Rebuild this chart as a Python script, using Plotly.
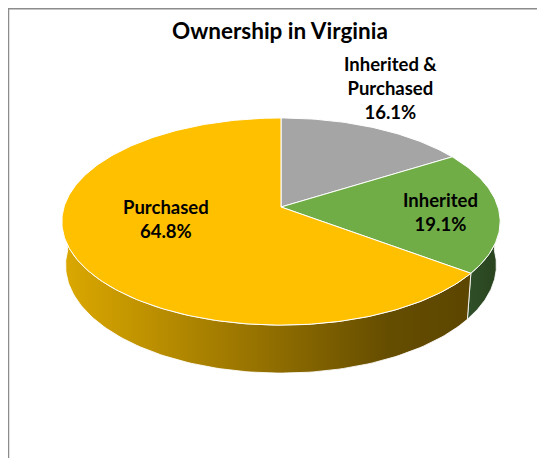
import numpy as np
import plotly.graph_objects as go

# ---- data ----
categories = ["Inherited &<br>Purchased", "Inherited", "Purchased"]
values = [16.1, 19.1, 64.8]
top_colors = ["#A5A5A5", "#70AD47", "#FFC000"]
side_scales = [
    [[0, "#6E6E6E"], [1, "#4A4A4A"]],
    [[0, "#30502A"], [1, "#28421C"]],
    [[0, "#DCA900"], [0.45, "#9A7500"], [0.8, "#654D00"], [1, "#5C4600"]],
]
label_pos = [(390, 88), (440, 212), (166, 219)]
title_text = "Ownership in Virginia"

# ---- layout / projection constants ----
W, H = 545, 458
OFF = 8  # browser body margin
CX, CY = 281, 207
F = 1367.0
D = 6.30
PHI = np.radians(27.9)
THICK = 0.23
FONT = "Lato"


def proj(X, Y, z):
    depth = D + Y * np.cos(PHI) - z * np.sin(PHI)
    sx = CX + F * X / depth
    sy = CY - F * (Y * np.sin(PHI) + z * np.cos(PHI)) / depth
    return sx, sy


def arc(t, z):
    return proj(np.sin(t), np.cos(t), z)


total = float(sum(values))
fr = np.array(values) / total
edges = np.concatenate([[0], np.cumsum(fr)]) * 2 * np.pi

fig = go.Figure()

# side walls (front half only)
for i in range(len(values)):
    a, b = edges[i], edges[i + 1]
    lo, hi = max(a, np.pi / 2), min(b, 3 * np.pi / 2)
    if lo >= hi:
        continue
    t = np.linspace(lo, hi, 120)
    tx, ty = arc(t, 0.0)
    bx, by = arc(t[::-1], -THICK)
    xs = np.concatenate([tx, bx, tx[:1]])
    ys = np.concatenate([ty, by, ty[:1]])
    fig.add_trace(go.Scatter(
        x=xs, y=ys, mode="lines", fill="toself",
        fillcolor=top_colors[i],
        fillgradient=dict(type="horizontal", colorscale=side_scales[i]),
        line=dict(color="rgba(255,255,255,0.85)", width=1),
        hoverinfo="skip", showlegend=False,
    ))

# top faces
for i in range(len(values)):
    a, b = edges[i], edges[i + 1]
    t = np.linspace(a, b, max(int((b - a) / (2 * np.pi) * 360), 8))
    ax_, ay_ = arc(t, 0.0)
    cx0, cy0 = proj(0.0, 0.0, 0.0)
    xs = np.concatenate([[cx0], ax_, [cx0]])
    ys = np.concatenate([[cy0], ay_, [cy0]])
    fig.add_trace(go.Scatter(
        x=xs, y=ys, mode="lines", fill="toself",
        fillcolor=top_colors[i],
        line=dict(color="white", width=1),
        hoverinfo="skip", showlegend=False,
    ))

annotations = []
for name, v, (lx, ly) in zip(categories, values, label_pos):
    lines = name.split("<br>") + [f"{v:.1f}%"]
    txt = "<br>".join(f"<b>{s}</b>" for s in lines)
    annotations.append(dict(
        x=lx, y=ly, xref="x", yref="y", text=txt, showarrow=False,
        xanchor="center", yanchor="middle", align="center",
        font=dict(family=FONT, size=18.5, color="#000000"),
    ))

annotations.append(dict(
    x=280, y=30, xref="x", yref="y", text=f"<b>{title_text}</b>",
    showarrow=False, xanchor="center", yanchor="middle",
    font=dict(family=FONT, size=22.5, color="#000000"),
))

shapes = [
    dict(type="line", xref="x", yref="y", x0=8.5, y0=OFF + 0.8, x1=W + 5, y1=OFF + 0.8,
         line=dict(color="#8C8C8C", width=1.5)),
    dict(type="line", xref="x", yref="y", x0=8.5, y0=OFF, x1=8.5, y1=H + 5,
         line=dict(color="#8C8C8C", width=1.5)),
]

fig.update_layout(
    width=W - OFF, height=H - OFF,
    margin=dict(l=0, r=0, t=0, b=0),
    paper_bgcolor="white", plot_bgcolor="white",
    xaxis=dict(range=[OFF, W], visible=False, fixedrange=True),
    yaxis=dict(range=[H, OFF], visible=False, fixedrange=True),
    annotations=annotations, shapes=shapes,
    showlegend=False,
)

fig.write_html("out.html")
